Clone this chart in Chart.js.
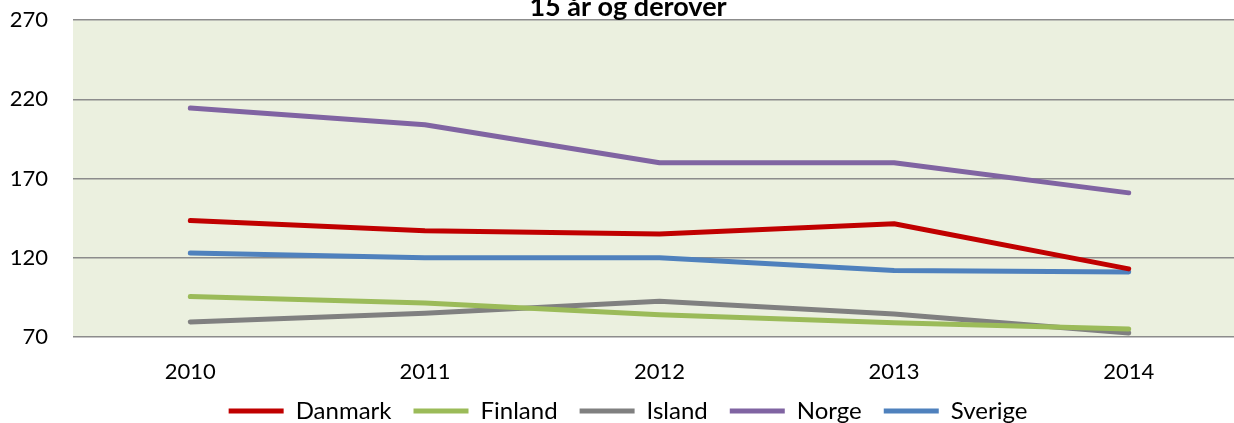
<!DOCTYPE html>
<html lang="no">
<head>
    <meta charset="UTF-8">
    <title>15 år og derover</title>
    <script src="https://cdn.jsdelivr.net/npm/chart.js"></script>
    <style>
        html, body { margin: 0; padding: 0; overflow: hidden; background: #fff; }
        #wrap { position: absolute; left: 0; top: -18px; width: 1262px; height: 441px; }
    </style>
</head>
<body>
    <div id="wrap">
        <canvas id="grafico"></canvas>
    </div>
    <script>
        const aar = ['2010', '2011', '2012', '2013', '2014'];
        const danmark = [143.5, 137, 135, 141.5, 113];
        const finland = [95.5, 91.5, 84, 79, 75];
        const island = [79.5, 85, 92.5, 84.5, 72.5];
        const norge = [214.5, 204, 180, 180, 161];
        const sverige = [123, 120, 120, 112, 111];
        const yTicks = [70, 120, 170, 220, 270];

        const fonte = "Lato, 'DejaVu Sans', sans-serif";

        const bakgrunn = {
            id: 'bakgrunn',
            afterLayout(chart) {
                // legend sits a bit closer to the year labels than chart.js puts it
                chart.legend.top -= 9;
            },
            beforeDraw(chart) {
                const { ctx, chartArea: a } = chart;
                ctx.save();
                ctx.fillStyle = '#EBF0DF';
                ctx.fillRect(a.left, a.top, a.right - a.left, a.bottom - a.top);
                ctx.restore();
            }
        };

        function serie(navn, data, farge) {
            return {
                label: navn,
                data: data,
                borderColor: farge,
                backgroundColor: farge,
                borderWidth: 5,
                pointRadius: 0,
                tension: 0,
                borderCapStyle: 'round',
                borderJoinStyle: 'round'
            };
        }

        const ctx = document.getElementById('grafico').getContext('2d');
        new Chart(ctx, {
            type: 'line',
            data: {
                labels: aar,
                datasets: [
                    serie('Danmark', danmark, '#C00000'),
                    serie('Finland', finland, '#9BBB59'),
                    serie('Island', island, '#808080'),
                    serie('Norge', norge, '#8064A2'),
                    serie('Sverige', sverige, '#4F81BD')
                ]
            },
            options: {
                responsive: true,
                maintainAspectRatio: false,
                animation: false,
                layout: { padding: { left: 10, right: 16, top: 0, bottom: 0 } },
                plugins: {
                    title: {
                        display: true,
                        text: '15 år og derover',
                        color: '#000',
                        font: { family: fonte, size: 27, weight: 'bold' },
                        padding: { top: 3, bottom: -3 }
                    },
                    legend: {
                        position: 'bottom',
                        maxHeight: 37,
                        labels: {
                            color: '#000',
                            font: { family: fonte, size: 24 },
                            boxWidth: 55,
                            boxHeight: 5,
                            padding: 22,
                            generateLabels(chart) {
                                return chart.data.datasets.map((d, i) => ({
                                    text: d.label,
                                    fillStyle: d.borderColor,
                                    strokeStyle: d.borderColor,
                                    lineWidth: 0,
                                    hidden: false,
                                    datasetIndex: i,
                                    fontColor: '#000'
                                }));
                            }
                        }
                    },
                    tooltip: { enabled: false }
                },
                scales: {
                    x: {
                        offset: true,
                        grid: { display: false, drawTicks: false },
                        border: { display: false },
                        ticks: { color: '#000', font: { family: fonte, size: 22 }, padding: 22 },
                        afterFit(axis) { axis.height = 49; }
                    },
                    y: {
                        min: 70,
                        max: 270,
                        afterBuildTicks(axis) { axis.ticks = yTicks.map(v => ({ value: v })); },
                        afterFit(axis) { axis.width = 63; },
                        grid: { color: '#8C8C8C', lineWidth: 1.5, drawTicks: false },
                        border: { display: false },
                        ticks: { color: '#000', font: { family: fonte, size: 22 }, padding: 25 }
                    }
                }
            },
            plugins: [bakgrunn]
        });
    </script>
</body>
</html>
